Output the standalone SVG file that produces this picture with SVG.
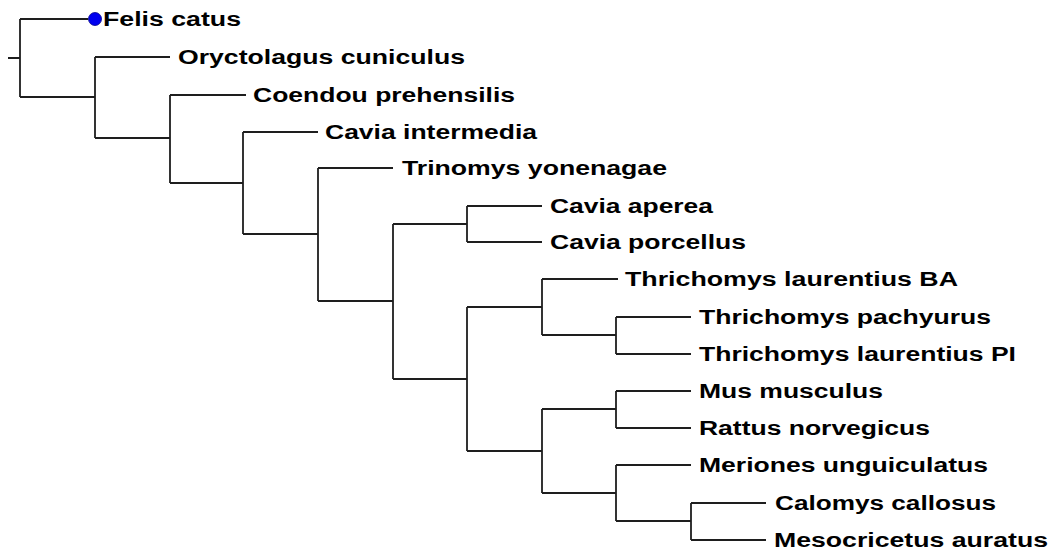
<svg xmlns="http://www.w3.org/2000/svg" width="1058" height="559" viewBox="0 0 1058 559">
<style>
.br{fill:none;stroke:#1e1e1e;stroke-width:1.8;stroke-linecap:butt}
.lb{font-family:"Liberation Sans",Arial,sans-serif;font-weight:bold;font-size:20px;fill:#000}
</style>
<rect width="1058" height="559" fill="#fff"/>
<g id="connectors">
<path class="br" d="M8,58H20 M20,19V97 M20,19H88 M20,97H95"/>
<path class="br" d="M95,57V138 M95,57H170 M95,138H170"/>
<path class="br" d="M170,95V183 M170,95H246 M170,183H243"/>
<path class="br" d="M243,132V234 M243,132H318 M243,234H318"/>
<path class="br" d="M318,168V301 M318,168H393 M318,301H393"/>
<path class="br" d="M393,224V379 M393,224H467 M393,379H467"/>
<path class="br" d="M467,206V242 M467,206H542 M467,242H542"/>
<path class="br" d="M467,307V451 M467,307H542 M467,451H542"/>
<path class="br" d="M542,279V335 M542,279H618 M542,335H616"/>
<path class="br" d="M616,317V354 M616,317H691 M616,354H691"/>
<path class="br" d="M542,409V493 M542,409H616 M542,493H616"/>
<path class="br" d="M616,391V428 M616,391H691 M616,428H691"/>
<path class="br" d="M616,465V521 M616,465H691 M616,521H691"/>
<path class="br" d="M691,503V540 M691,503H766 M691,540H766"/>
</g>
<g id="felis-catus"><circle cx="95" cy="19" r="6.5" fill="#0000f0" stroke="#00008a" stroke-width="0.8"/><text class="lb" x="103" y="26" textLength="138" lengthAdjust="spacingAndGlyphs">Felis catus</text></g>
<g id="oryctolagus-cuniculus"><text class="lb" x="178" y="64" textLength="287" lengthAdjust="spacingAndGlyphs">Oryctolagus cuniculus</text></g>
<g id="coendou-prehensilis"><text class="lb" x="253" y="102" textLength="262" lengthAdjust="spacingAndGlyphs">Coendou prehensilis</text></g>
<g id="cavia-intermedia"><text class="lb" x="325" y="139" textLength="212" lengthAdjust="spacingAndGlyphs">Cavia intermedia</text></g>
<g id="trinomys-yonenagae"><text class="lb" x="402" y="175" textLength="265" lengthAdjust="spacingAndGlyphs">Trinomys yonenagae</text></g>
<g id="cavia-aperea"><text class="lb" x="550" y="213" textLength="163" lengthAdjust="spacingAndGlyphs">Cavia aperea</text></g>
<g id="cavia-porcellus"><text class="lb" x="550" y="249" textLength="196" lengthAdjust="spacingAndGlyphs">Cavia porcellus</text></g>
<g id="thrichomys-laurentius-ba"><text class="lb" x="625" y="286" textLength="333" lengthAdjust="spacingAndGlyphs">Thrichomys laurentius BA</text></g>
<g id="thrichomys-pachyurus"><text class="lb" x="699" y="324" textLength="292" lengthAdjust="spacingAndGlyphs">Thrichomys pachyurus</text></g>
<g id="thrichomys-laurentius-pi"><text class="lb" x="699" y="361" textLength="317" lengthAdjust="spacingAndGlyphs">Thrichomys laurentius PI</text></g>
<g id="mus-musculus"><text class="lb" x="699" y="398" textLength="184" lengthAdjust="spacingAndGlyphs">Mus musculus</text></g>
<g id="rattus-norvegicus"><text class="lb" x="699" y="435" textLength="231" lengthAdjust="spacingAndGlyphs">Rattus norvegicus</text></g>
<g id="meriones-unguiculatus"><text class="lb" x="699" y="472" textLength="289" lengthAdjust="spacingAndGlyphs">Meriones unguiculatus</text></g>
<g id="calomys-callosus"><text class="lb" x="775" y="510" textLength="221" lengthAdjust="spacingAndGlyphs">Calomys callosus</text></g>
<g id="mesocricetus-auratus"><text class="lb" x="774" y="547" textLength="274" lengthAdjust="spacingAndGlyphs">Mesocricetus auratus</text></g>
</svg>
